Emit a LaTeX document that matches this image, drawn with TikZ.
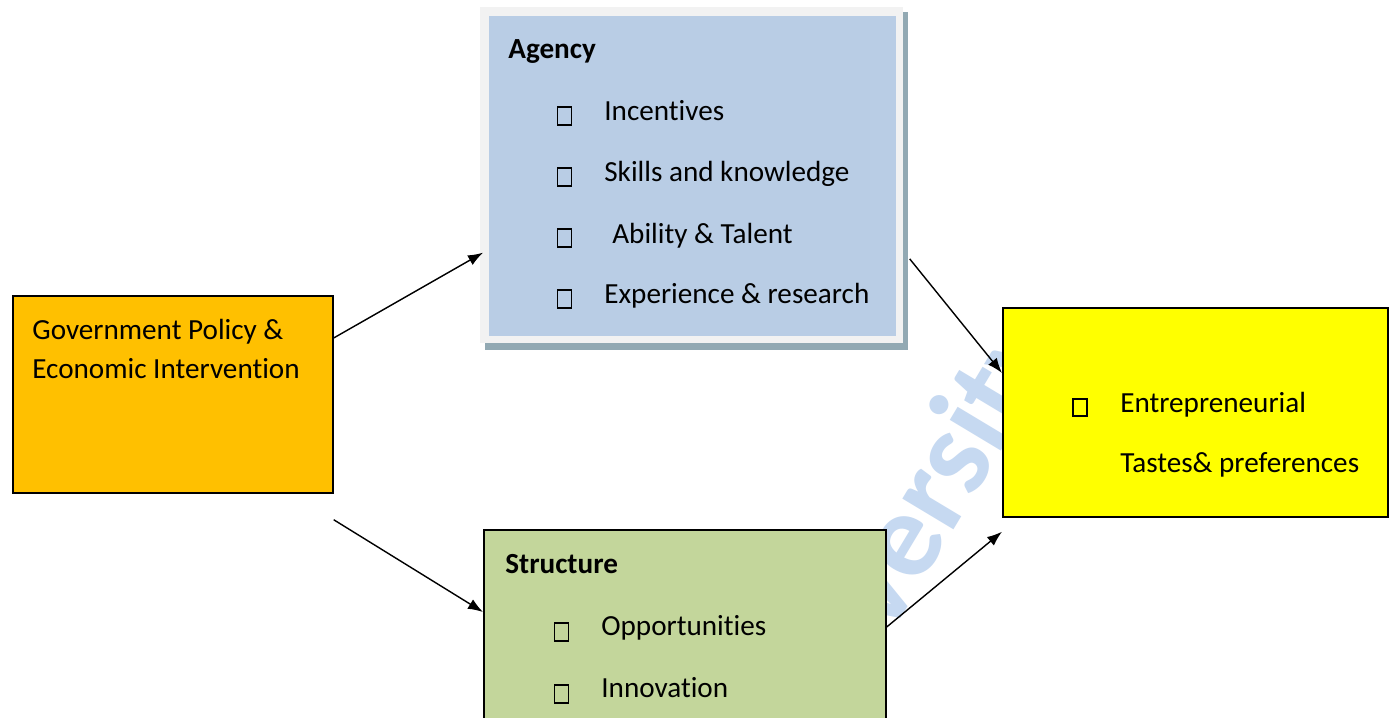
\documentclass[tikz,border=0pt]{standalone}
\usepackage{fontspec}
\setmainfont{Carlito}[Ligatures=NoCommon]
\usepackage{tikz}
\usetikzlibrary{arrows, arrows.meta, calc, positioning, shapes}

\definecolor{govorange}{HTML}{FFC000}
\definecolor{agencyblue}{HTML}{B9CDE5}
\definecolor{framegray}{HTML}{F2F2F2}
\definecolor{shadowgray}{HTML}{92A9B3}
\definecolor{tasteyellow}{HTML}{FFFF00}
\definecolor{structgreen}{HTML}{C3D69B}
\definecolor{markblue}{HTML}{C6D9F1}

\tikzset{
	box/.style={draw=black, line width=1pt, anchor=north west, inner sep=0pt},
	label/.style={anchor=base west, inner sep=0pt, font=\fontsize{16.6}{20}\selectfont},
	heading/.style={label, font=\fontsize{16.6}{20}\selectfont\bfseries},
	bulletbox/.style={draw=black, line width=1.1pt, inner sep=0pt, minimum width=0.28cm, minimum height=0.35cm},
	link/.style={line width=0.8pt, -{Latex[length=0.3cm, width=0.22cm]}},
	watermark/.style={text=markblue, font=\fontsize{70}{76}\selectfont\bfseries, inner sep=0pt}
}

\begin{document}
\begin{tikzpicture}[x=0.02cm, y=-0.02cm]
	\useasboundingbox (0,0) rectangle (1390,717);
	\fill[white] (0,0) rectangle (1390,717);

	% faint watermark behind the boxes
	\node[watermark, rotate=59] (wm) at (903,550) {University};

	% left box
	\node[box, fill=govorange, minimum width=6.4cm, minimum height=3.94cm] (gov) at (12,295) {};
	\node[label] (gov1) at (32,339) {Government Policy \&};
	\node[label] (gov2) at (32,378) {Economic Intervention};

	% agency box with frame and shadow
	\fill[shadowgray] (485,12) rectangle (908,350);
	\fill[framegray] (480,7) rectangle (903,343);
	\node[box, draw=none, fill=agencyblue, minimum width=8.14cm, minimum height=6.4cm] (agency) at (488,15) {};
	\node[heading] (agtitle) at (508,58) {Agency};
	\node[bulletbox] (ab1) at (564.5,116) {};
	\node[label] (ag1) at (604,120) {Incentives};
	\node[bulletbox] (ab2) at (564.5,177) {};
	\node[label] (ag2) at (604,181) {Skills and knowledge};
	\node[bulletbox] (ab3) at (564.5,238) {};
	\node[label] (ag3) at (612,243) {Ability \& Talent};
	\node[bulletbox] (ab4) at (564.5,299) {};
	\node[label] (ag4) at (604,303) {Experience \& research};

	% structure box
	\node[box, fill=structgreen, minimum width=8.04cm, minimum height=4.2cm] (structure) at (483,529) {};
	\node[heading] (sttitle) at (505,573) {Structure};
	\node[bulletbox] (sb1) at (561.5,632) {};
	\node[label] (st1) at (601,635) {Opportunities};
	\node[bulletbox] (sb2) at (561.5,694) {};
	\node[label] (st2) at (601,697) {Innovation};

	% right box
	\node[box, fill=tasteyellow, minimum width=7.7cm, minimum height=4.18cm] (taste) at (1002,307) {};
	\node[bulletbox] (tb1) at (1080,407.5) {};
	\node[label] (ta1) at (1120,412) {Entrepreneurial};
	\node[label] (ta2) at (1120,472) {Tastes\& preferences};

	% connectors
	\draw[link] ($(gov.north east)+(0,43)$) -- ($(agency.south west)+(-5,-84)$);
	\draw[link] ($(gov.south east)+(0,26)$) -- ($(structure.north west)+(0,83)$);
	\draw[link] ($(agency.east)+(13,83)$) -- ($(taste.north west)+(0,66)$);
	\draw[link] ($(structure.north east)+(0,98)$) -- ($(taste.south west)+(0,14)$);
\end{tikzpicture}
\end{document}
